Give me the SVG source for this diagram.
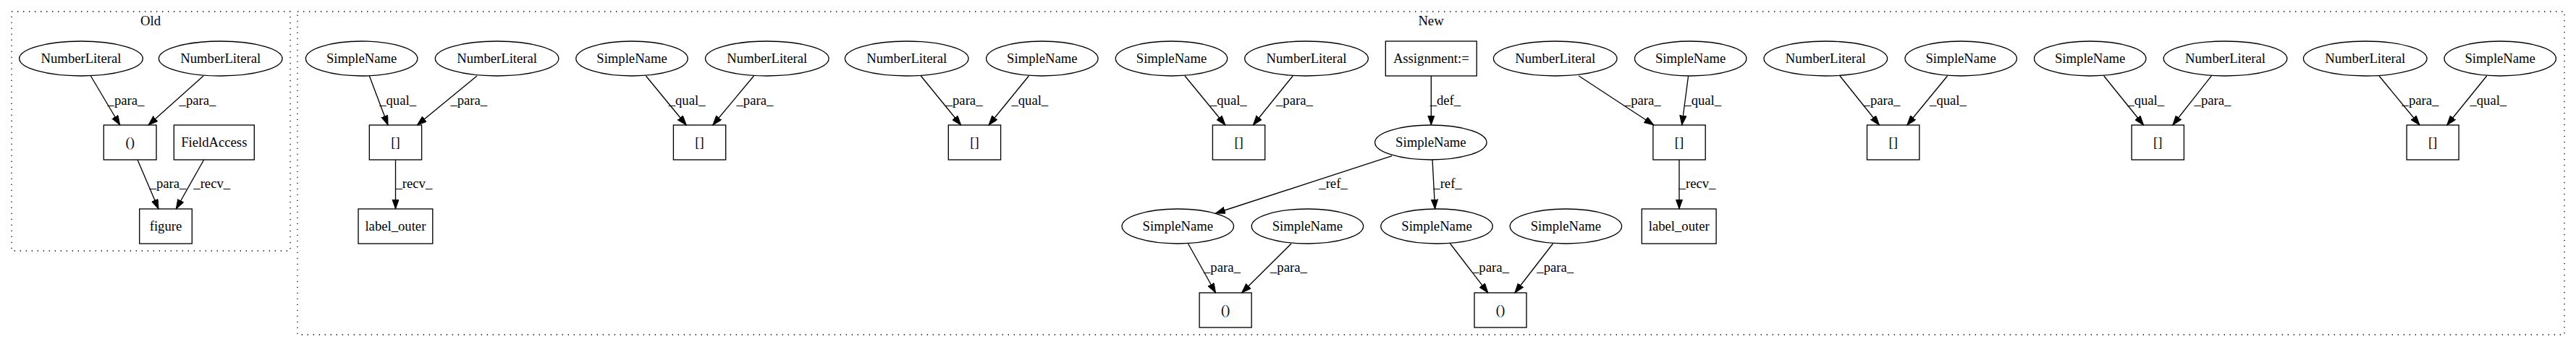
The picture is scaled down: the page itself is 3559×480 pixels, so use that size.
<svg xmlns="http://www.w3.org/2000/svg" width="3559" height="480" viewBox="0 0 3559 480">
<style>
.bg{fill:#fff}
.cl{fill:none;stroke:#000;stroke-width:1.33;stroke-dasharray:1.33,6.67}
.n{fill:none;stroke:#000;stroke-width:1.33}
text{font-family:"Liberation Serif","Times New Roman",serif;font-size:18.67px;text-anchor:middle;fill:#000}
.e line{stroke:#000;stroke-width:1.33;marker-end:url(#ah)}
</style>
<defs>
<marker id="ah" markerUnits="userSpaceOnUse" markerWidth="14" markerHeight="10" refX="13.3" refY="4.67" orient="auto">
<path d="M0,0 L13.3,4.67 L0,9.33 z" fill="#000" stroke="#000" stroke-width="1"/>
</marker>
</defs>
<rect class="bg" x="0" y="0" width="3559" height="480"/>
<g id="cluster_old"><rect class="cl" x="16" y="16" width="385" height="331"/><text x="208" y="35">Old</text></g>
<g id="cluster_new"><rect class="cl" x="411" y="16" width="3132" height="447"/><text x="1977" y="35">New</text></g>

<g id="old_nl1"><ellipse class="n" cx="112" cy="81" rx="85.3" ry="24"/><text x="112" y="87">NumberLiteral</text></g>
<g id="old_nl2"><ellipse class="n" cx="304.7" cy="81" rx="85.3" ry="24"/><text x="304.7" y="87">NumberLiteral</text></g>
<g id="old_paren"><rect class="n" x="143.3" y="173" width="72.7" height="48"/><text x="179.7" y="203">()</text></g>
<g id="old_field"><rect class="n" x="240.3" y="173" width="111" height="48"/><text x="295.8" y="203">FieldAccess</text></g>
<g id="old_figure"><rect class="n" x="192.7" y="289" width="72.6" height="48"/><text x="229" y="319">figure</text></g>

<g id="sn_a"><ellipse class="n" cx="499.6" cy="81" rx="77.2" ry="24"/><text x="499.6" y="87">SimpleName</text></g>
<g id="nl_b"><ellipse class="n" cx="686.6" cy="81" rx="85.3" ry="24"/><text x="686.6" y="87">NumberLiteral</text></g>
<g id="idx1"><rect class="n" x="510.3" y="173" width="72.3" height="48"/><text x="546.5" y="203">[]</text></g>
<g id="lo1"><rect class="n" x="495" y="289" width="102.8" height="48"/><text x="546.4" y="319">label_outer</text></g>

<g id="sn_c"><ellipse class="n" cx="873" cy="81" rx="77.2" ry="24"/><text x="873" y="87">SimpleName</text></g>
<g id="nl_d"><ellipse class="n" cx="1059.8" cy="81" rx="85.3" ry="24"/><text x="1059.8" y="87">NumberLiteral</text></g>
<g id="idx2"><rect class="n" x="930.4" y="173" width="72.3" height="48"/><text x="966.5" y="203">[]</text></g>

<g id="nl_e"><ellipse class="n" cx="1252.7" cy="81" rx="85.3" ry="24"/><text x="1252.7" y="87">NumberLiteral</text></g>
<g id="sn_f"><ellipse class="n" cx="1439.8" cy="81" rx="77.2" ry="24"/><text x="1439.8" y="87">SimpleName</text></g>
<g id="idx3"><rect class="n" x="1310.3" y="173" width="72.3" height="48"/><text x="1346.5" y="203">[]</text></g>

<g id="sn_g"><ellipse class="n" cx="1618.5" cy="81" rx="77.2" ry="24"/><text x="1618.5" y="87">SimpleName</text></g>
<g id="nl_h"><ellipse class="n" cx="1805" cy="81" rx="85.3" ry="24"/><text x="1805" y="87">NumberLiteral</text></g>
<g id="idx4"><rect class="n" x="1675.4" y="173" width="72.3" height="48"/><text x="1711.6" y="203">[]</text></g>

<g id="assign"><rect class="n" x="1914.3" y="57" width="125.9" height="48"/><text x="1977.3" y="87">Assignment:=</text></g>
<g id="sn_k"><ellipse class="n" cx="1976.8" cy="197" rx="77.2" ry="24"/><text x="1976.8" y="203">SimpleName</text></g>
<g id="sn_i"><ellipse class="n" cx="1627.3" cy="313" rx="77.2" ry="24"/><text x="1627.3" y="319">SimpleName</text></g>
<g id="sn_j"><ellipse class="n" cx="1806.4" cy="313" rx="77.2" ry="24"/><text x="1806.4" y="319">SimpleName</text></g>
<g id="call1"><rect class="n" x="1657.1" y="405" width="72" height="48"/><text x="1693.1" y="435">()</text></g>
<g id="sn_l"><ellipse class="n" cx="1985" cy="313" rx="77.2" ry="24"/><text x="1985" y="319">SimpleName</text></g>
<g id="sn_m"><ellipse class="n" cx="2163.4" cy="313" rx="77.2" ry="24"/><text x="2163.4" y="319">SimpleName</text></g>
<g id="call2"><rect class="n" x="2037" y="405" width="72" height="48"/><text x="2073" y="435">()</text></g>

<g id="nl_n"><ellipse class="n" cx="2148.7" cy="81" rx="85.3" ry="24"/><text x="2148.7" y="87">NumberLiteral</text></g>
<g id="sn_o"><ellipse class="n" cx="2335.7" cy="81" rx="77.2" ry="24"/><text x="2335.7" y="87">SimpleName</text></g>
<g id="idx7"><rect class="n" x="2283.9" y="173" width="72.3" height="48"/><text x="2320" y="203">[]</text></g>
<g id="lo2"><rect class="n" x="2268.3" y="289" width="102.8" height="48"/><text x="2319.7" y="319">label_outer</text></g>

<g id="nl_p"><ellipse class="n" cx="2522.3" cy="81" rx="85.3" ry="24"/><text x="2522.3" y="87">NumberLiteral</text></g>
<g id="sn_q"><ellipse class="n" cx="2709.2" cy="81" rx="77.2" ry="24"/><text x="2709.2" y="87">SimpleName</text></g>
<g id="idx8"><rect class="n" x="2579.5" y="173" width="72.3" height="48"/><text x="2615.7" y="203">[]</text></g>

<g id="sn_r"><ellipse class="n" cx="2887.7" cy="81" rx="77.2" ry="24"/><text x="2887.7" y="87">SimpleName</text></g>
<g id="nl_s"><ellipse class="n" cx="3074.5" cy="81" rx="85.3" ry="24"/><text x="3074.5" y="87">NumberLiteral</text></g>
<g id="idx9"><rect class="n" x="2945.1" y="173" width="72.3" height="48"/><text x="2981.3" y="203">[]</text></g>

<g id="nl_t"><ellipse class="n" cx="3267.7" cy="81" rx="85.3" ry="24"/><text x="3267.7" y="87">NumberLiteral</text></g>
<g id="sn_u"><ellipse class="n" cx="3454.2" cy="81" rx="77.2" ry="24"/><text x="3454.2" y="87">SimpleName</text></g>
<g id="idx10"><rect class="n" x="3325.1" y="173" width="72" height="48"/><text x="3361.1" y="203">[]</text></g>

<g id="edges" class="e">
<line x1="125.3" y1="105" x2="165.7" y2="173"/><text x="174" y="145">_para_</text>
<line x1="281" y1="105" x2="205" y2="173"/><text x="273" y="145">_para_</text>
<line x1="190" y1="221" x2="219" y2="289"/><text x="232" y="260">_para_</text>
<line x1="281.7" y1="221" x2="243.3" y2="289"/><text x="292.7" y="260">_recv_</text>

<line x1="510.3" y1="105" x2="536" y2="173"/><text x="549.6" y="145">_qual_</text>
<line x1="659" y1="105" x2="576.3" y2="173"/><text x="647.8" y="145">_para_</text>
<line x1="546.5" y1="221" x2="546.5" y2="289"/><text x="571.9" y="260">_recv_</text>

<line x1="892.4" y1="105" x2="948.2" y2="173"/><text x="949.1" y="145">_qual_</text>
<line x1="1041.5" y1="105" x2="984.8" y2="173"/><text x="1042.9" y="145">_para_</text>

<line x1="1272.3" y1="105" x2="1327.7" y2="173"/><text x="1332.1" y="145">_para_</text>
<line x1="1421.4" y1="105" x2="1366" y2="173"/><text x="1422.8" y="145">_qual_</text>

<line x1="1637" y1="105" x2="1692.9" y2="173"/><text x="1697.3" y="145">_qual_</text>
<line x1="1786.2" y1="105" x2="1731.3" y2="173"/><text x="1788.4" y="145">_para_</text>

<line x1="1977.3" y1="105" x2="1977.3" y2="173"/><text x="1996.9" y="145">_def_</text>
<line x1="1923.2" y1="215.7" x2="1679.5" y2="295"/><text x="1842" y="260">_ref_</text>
<line x1="1979" y1="221" x2="1982.6" y2="289"/><text x="2000" y="260">_ref_</text>

<line x1="1641.5" y1="337" x2="1679.5" y2="405"/><text x="1688.4" y="376">_para_</text>
<line x1="1784" y1="337" x2="1715.6" y2="405"/><text x="1780.4" y="376">_para_</text>
<line x1="2003.6" y1="337" x2="2055.8" y2="405"/><text x="2059.4" y="376">_para_</text>
<line x1="2145.5" y1="337" x2="2092.9" y2="405"/><text x="2148.7" y="376">_para_</text>

<line x1="2181.3" y1="105" x2="2284.8" y2="173"/><text x="2269.2" y="145">_para_</text>
<line x1="2332.6" y1="105" x2="2323.7" y2="173"/><text x="2352.7" y="145">_qual_</text>
<line x1="2320" y1="221" x2="2320" y2="289"/><text x="2345" y="260">_recv_</text>

<line x1="2542" y1="105" x2="2596.4" y2="173"/><text x="2600" y="145">_para_</text>
<line x1="2690.6" y1="105" x2="2634.8" y2="173"/><text x="2691.5" y="145">_qual_</text>

<line x1="2906.7" y1="105" x2="2961.6" y2="173"/><text x="2964.7" y="145">_qual_</text>
<line x1="3055.3" y1="105" x2="3001.8" y2="173"/><text x="3057" y="145">_para_</text>

<line x1="3287" y1="105" x2="3343" y2="173"/><text x="3344" y="145">_para_</text>
<line x1="3435.7" y1="105" x2="3380.7" y2="173"/><text x="3437.8" y="145">_qual_</text>
</g>
</svg>
